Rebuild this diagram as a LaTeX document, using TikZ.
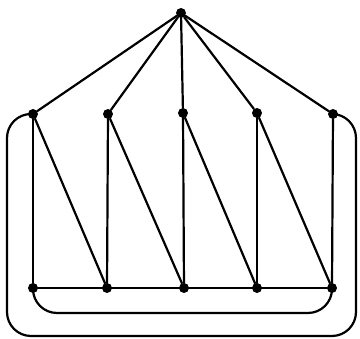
\documentclass[tikz,border=0pt]{standalone}
\usepackage{tikz}

\begin{document}
\begin{tikzpicture}[
    x=1pt,y=-1pt,
    vertex/.style={circle,fill=black,inner sep=0pt,minimum size=10pt},
    edge/.style={line width=2.2pt,line cap=round},
    loop/.style={line width=2.2pt,rounded corners=24pt}
  ]
    \useasboundingbox (0,0) rectangle (360,339);

    \node[vertex] (top) at (181,13) {};

    \node[vertex] (m1) at (33,114) {};
    \node[vertex] (m2) at (108,114) {};
    \node[vertex] (m3) at (183,113) {};
    \node[vertex] (m4) at (257,113) {};
    \node[vertex] (m5) at (333,114) {};

    \node[vertex] (b1) at (33,288) {};
    \node[vertex] (b2) at (107,288) {};
    \node[vertex] (b3) at (184,288) {};
    \node[vertex] (b4) at (257,288) {};
    \node[vertex] (b5) at (332,288) {};

    \coordinate (oa) at (7,114);
    \coordinate (ob) at (7,336);
    \coordinate (oc) at (356,336);
    \coordinate (od) at (356,114);
    \coordinate (ia) at (33,313);
    \coordinate (ib) at (332,313);

    % fan from the apex
    \draw[edge] (top) -- (m1);
    \draw[edge] (top) -- (m2);
    \draw[edge] (top) -- (m3);
    \draw[edge] (top) -- (m4);
    \draw[edge] (top) -- (m5);

    % verticals
    \draw[edge] (m1) -- (b1);
    \draw[edge] (m2) -- (b2);
    \draw[edge] (m3) -- (b3);
    \draw[edge] (m4) -- (b4);
    \draw[edge] (m5) -- (b5);

    % diagonals
    \draw[edge] (m1) -- (b2);
    \draw[edge] (m2) -- (b3);
    \draw[edge] (m3) -- (b4);
    \draw[edge] (m4) -- (b5);

    % bottom path
    \draw[edge] (b1) -- (b5);

    % round loops
    \draw[loop] (b1.center) -- (ia) -- (ib) -- (b5.center);
    \draw[loop] (m1.center) -- (oa) -- (ob) -- (oc) -- (od) -- (m5.center);
  \end{tikzpicture}
\end{document}
